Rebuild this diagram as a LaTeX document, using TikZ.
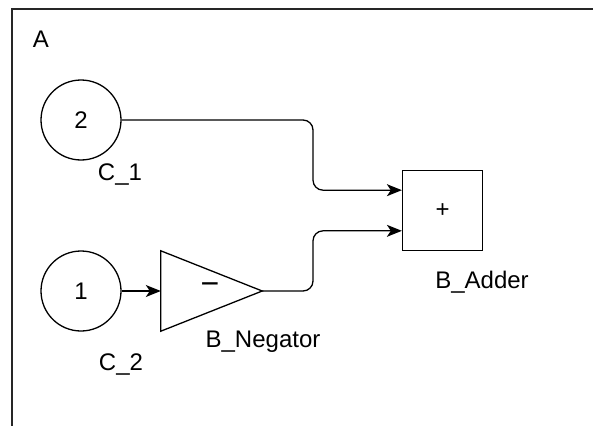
\documentclass[tikz,border=0pt]{standalone}
\usepackage{fontspec}
\setmainfont{Liberation Sans}
\usetikzlibrary{arrows.meta,calc}
\begin{document}
\begin{tikzpicture}[x=1pt,y=-1pt,
  txt/.style={font=\fontsize{24}{28}\selectfont, inner sep=0pt},
  lbl/.style={txt, anchor=base},
  src/.style={draw, circle, line width=1.3pt, minimum size=80pt, inner sep=0pt, font=\fontsize{24}{28}\selectfont},
  blk/.style={draw, line width=1.3pt, minimum size=80pt, inner sep=0pt, font=\fontsize{24}{28}\selectfont},
  wire/.style={line width=1.3pt, rounded corners=10pt},
  tip/.style={-{Stealth[length=15pt,width=12pt,inset=4pt]}}
]
\useasboundingbox (0,0) rectangle (593,425);
\begin{scope}
  \clip (0,0) rectangle (593,425);
  \draw[line width=1.6pt, black!85] (12,440) -- (12,9) -- (610,9);
\end{scope}
\node[lbl] (lA) at (41,48) {A};
% sources
\node[src] (c1) at (81,120) {2};
\node[src] (c2) at (81,291) {1};
\node[lbl] (lc1) at (120,180) {C\_1};
\node[lbl] (lc2) at (121,370) {C\_2};
% negator
\node[minimum width=101pt, minimum height=80pt, inner sep=0pt] (neg) at (211.5,291) {};
\draw[line width=1.3pt, line join=miter] (neg.north west) -- (neg.east) -- (neg.south west) -- cycle;
\node[txt, font=\fontsize{32}{34}\selectfont] (negs) at (210,289) {\textminus};
\node[lbl] (lneg) at (263,347) {B\_Negator};
% adder
\node[blk] (add) at (442.5,210.5) {+};
\node[lbl] (ladd) at (482,288) {B\_Adder};
\coordinate (in1) at ($(add.north west)!0.25!(add.south west)$);
\coordinate (in2) at ($(add.north west)!0.75!(add.south west)$);
\coordinate (mx) at (313,0);
% wires
\draw[wire,tip] (c1.east) -- (c1.east -| mx) -- (in1 -| mx) -- (in1);
\draw[wire,tip] (neg.east) -- (neg.east -| mx) -- (in2 -| mx) -- (in2);
\draw[line width=1.3pt,tip] (c2.east) -- (neg.west);
\end{tikzpicture}
\end{document}
